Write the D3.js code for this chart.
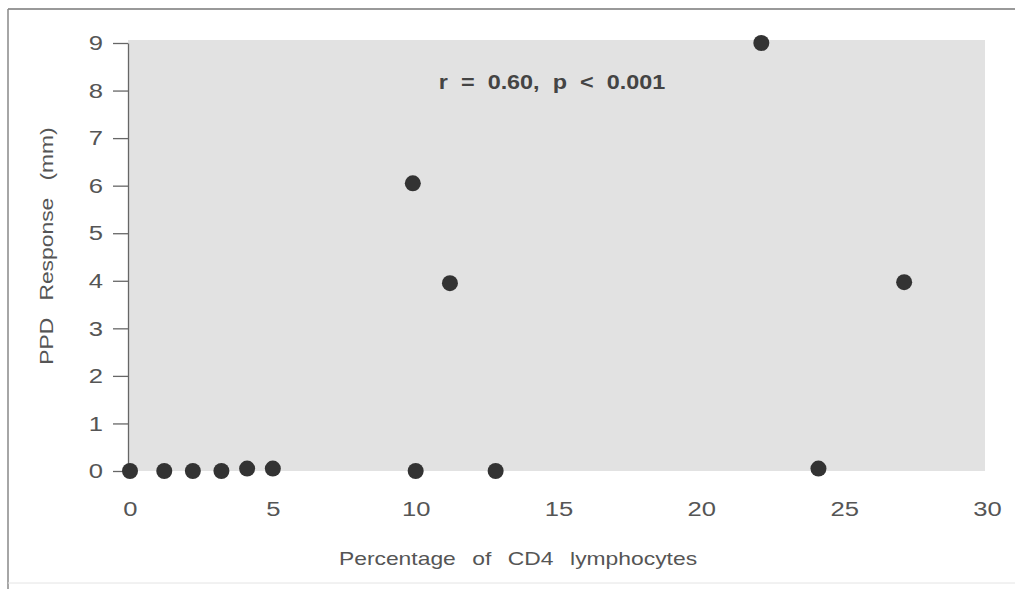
<!DOCTYPE html>
<html>
<head>
<meta charset="utf-8">
<script src="https://cdn.jsdelivr.net/npm/d3@7"></script>
<style>
  body { margin: 0; background: #fff; }
  text { font-family: "Liberation Sans", Arial, sans-serif; fill: #555; }
</style>
</head>
<body>
<svg id="chart" width="1015" height="589"></svg>
<script>
// CD4 % vs PPD response (mm)
const cd4Pct = [0, 1.2, 2.2, 3.2, 4.1, 5.0, 9.9, 10.0, 11.2, 12.8, 22.1, 24.1, 27.1];
const ppdMm  = [0, 0,   0,   0,   0.05, 0.05, 6.05, 0,  3.95, 0,    9.0,  0.05, 3.97];
const xTicks = [0, 5, 10, 15, 20, 25, 30];
const yTicks = [0, 1, 2, 3, 4, 5, 6, 7, 8, 9];

const svg = d3.select("#chart");

const x = d3.scaleLinear().domain([0, 30]).range([130, 987]);
const y = d3.scaleLinear().domain([0, 9]).range([471, 43]);

const stretch = 1.22; // the scanned lettering is wide

// outer frame
svg.append("line").attr("x1", 8).attr("x2", 1015).attr("y1", 9).attr("y2", 9)
    .attr("stroke", "#777").attr("stroke-width", 1.5);
svg.append("line").attr("x1", 8).attr("x2", 8).attr("y1", 9).attr("y2", 589)
    .attr("stroke", "#888").attr("stroke-width", 1.5);
svg.append("line").attr("x1", 8).attr("x2", 1015).attr("y1", 583).attr("y2", 583)
    .attr("stroke", "#e4e4e4").attr("stroke-width", 1);

// grey plot panel
svg.append("rect")
    .attr("x", x(0) - 2)
    .attr("y", y(9) - 3)
    .attr("width", x(30) - x(0))
    .attr("height", y(0) - y(9) + 3)
    .attr("fill", "#e2e2e2");

// y axis
const yAxis = svg.append("g")
    .attr("transform", `translate(${x(0) - 2},0)`)
    .call(d3.axisLeft(y).tickValues(yTicks).tickSize(15).tickSizeOuter(0));
yAxis.select(".domain").attr("stroke", "#666").attr("stroke-width", 1.3);
yAxis.selectAll(".tick line").attr("stroke", "#666").attr("stroke-width", 1.3);
yAxis.selectAll(".tick text")
    .style("font-family", "'Liberation Sans', Arial, sans-serif")
    .attr("font-size", 21).attr("fill", "#555")
    .attr("x", -25 / stretch)
    .attr("transform", `scale(${stretch},1)`);

// x axis (labels only)
const xAxis = svg.append("g")
    .attr("transform", `translate(0,${y(0) + 18})`)
    .call(d3.axisBottom(x).tickValues(xTicks).tickSize(0).tickPadding(12));
xAxis.select(".domain").remove();
xAxis.selectAll(".tick text")
    .style("font-family", "'Liberation Sans', Arial, sans-serif")
    .attr("font-size", 21).attr("fill", "#555")
    .attr("transform", `scale(${stretch},1)`);

// axis titles
svg.append("text")
    .attr("transform", "translate(518,565) scale(1.27,1)")
    .attr("text-anchor", "middle")
    .attr("font-size", 18)
    .style("word-spacing", "8px")
    .text("Percentage of CD4 lymphocytes");

svg.append("text")
    .attr("transform", "translate(53,246) rotate(-90) scale(1.27,1)")
    .attr("text-anchor", "middle")
    .attr("font-size", 18)
    .style("word-spacing", "8.5px")
    .text("PPD Response (mm)");

// annotation
svg.append("text")
    .attr("transform", "translate(552,89) scale(1.2,1)")
    .attr("text-anchor", "middle")
    .attr("font-size", 19.5)
    .attr("font-weight", "bold")
    .style("word-spacing", "5.5px")
    .style("fill", "#444")
    .text("r = 0.60, p < 0.001");

// points
const pts = cd4Pct.map((v, i) => ({ x: v, y: ppdMm[i] }));
svg.append("g").selectAll("circle")
    .data(pts)
    .join("circle")
    .attr("cx", d => x(d.x))
    .attr("cy", d => y(d.y))
    .attr("r", 8)
    .attr("fill", "#333");
</script>
</body>
</html>
